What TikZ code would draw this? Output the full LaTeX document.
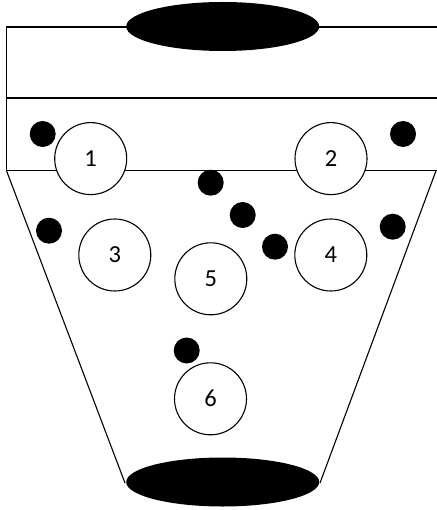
\documentclass[tikz,border=0pt]{standalone}
\usepackage{fontspec}
\setmainfont{Carlito}
\usetikzlibrary{shapes.geometric}

\begin{document}
\begin{tikzpicture}[
    x=1pt, y=-1pt,
    ball/.style={draw, circle, fill=white, line width=1.1pt, minimum size=72pt, inner sep=0pt, font=\fontsize{24.5}{28}\selectfont},
    dot/.style={circle, fill=black, minimum size=26pt, inner sep=0pt},
    hole/.style={ellipse, fill=black, minimum width=193pt, minimum height=49pt, inner sep=0pt}
  ]
  \useasboundingbox (0,0) rectangle (436,510);

  % housing
  \draw[line width=1.1pt] (445,27) -- (6.5,27) -- (6.5,170.7) -- (445,170.7);
  \draw[line width=1.1pt] (6.5,98) -- (445,98);
  \draw[line width=1.1pt] (6.5,170.7) -- (125,483);
  \draw[line width=1.1pt] (436,170.7) -- (320,483);

  \node[hole] (htop) at (222.7,26.5) {};
  \node[hole] (hbot) at (222.7,482) {};

  % balls
  \node[ball] (b1) at (90.7,158.6) {1};
  \node[ball] (b2) at (331,158.6) {2};
  \node[ball] (b3) at (114.8,255) {3};
  \node[ball] (b4) at (330.8,255) {4};
  \node[ball] (b5) at (210.8,278.8) {5};
  \node[ball] (b6) at (210.5,398.8) {6};

  % dots
  \node[dot] (d1) at (42.7,134) {};
  \node[dot] (d2) at (403,134) {};
  \node[dot] (d3) at (210.7,182.7) {};
  \node[dot] (d4) at (242.7,215) {};
  \node[dot] (d5) at (275,246.7) {};
  \node[dot] (d6) at (49,230.7) {};
  \node[dot] (d7) at (392.7,226.7) {};
  \node[dot] (d8) at (186.7,350.5) {};
\end{tikzpicture}
\end{document}
